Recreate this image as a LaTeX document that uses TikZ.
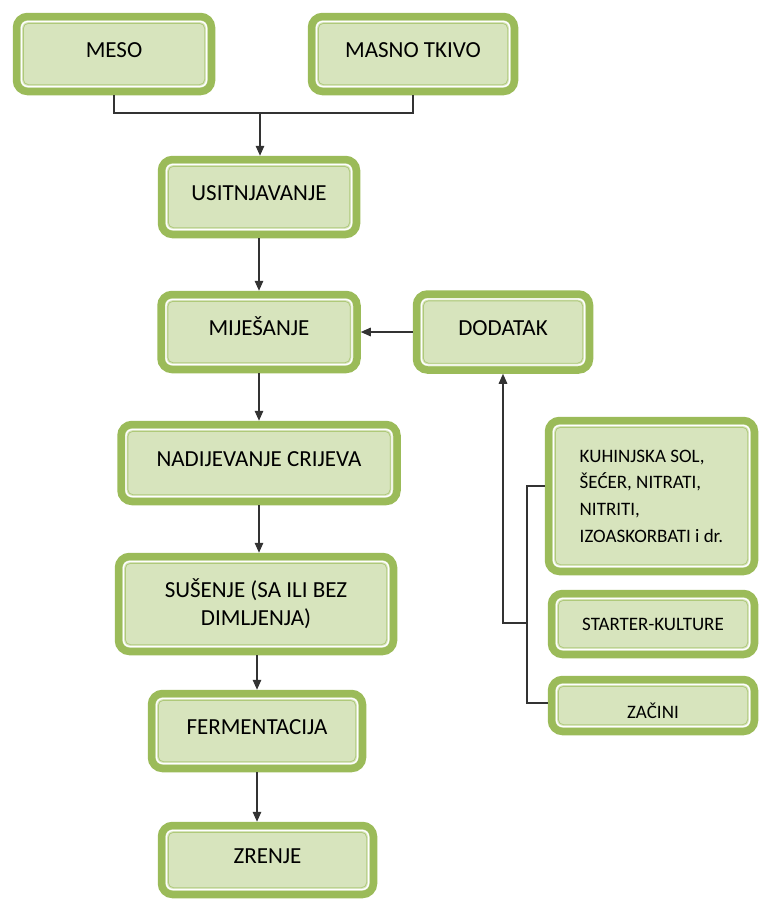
\documentclass[tikz,border=0pt]{standalone}
\usepackage{fontspec}
\setmainfont{Carlito}
\usetikzlibrary{arrows.meta,calc}
\definecolor{gborder}{HTML}{9BBB59}
\definecolor{gfill}{HTML}{D7E4BD}
\tikzset{
  box/.style={draw=gborder, line width=7.5pt, fill=gfill, rounded corners=11pt,
    inner sep=0pt, font=\fontsize{23}{28}\selectfont, text=black},
  up/.style={text height=15pt, text depth=8pt},
  smallbox/.style={font=\fontsize{19}{26.7}\selectfont},
  conn/.style={line width=1.5pt, draw=black!80},
  arr/.style={conn, -{Triangle[length=10pt,width=8.5pt]}},
}
\begin{document}
\begin{tikzpicture}[x=1pt,y=-1pt]
\useasboundingbox (0,0) rectangle (759,900);
% main column
\node[box,up,minimum width=195,minimum height=75] (meso) at (114,54) {MESO};
\node[box,up,minimum width=203,minimum height=75] (masno) at (413,54) {MASNO TKIVO};
\node[box,up,minimum width=195,minimum height=75] (usit) at (259,197) {USITNJAVANJE};
\node[box,up,minimum width=196,minimum height=75] (mij) at (259,332) {MIJEŠANJE};
\node[box,up,minimum width=173,minimum height=76] (dod) at (503,332) {DODATAK};
\node[box,up,minimum width=276,minimum height=77] (nad) at (259,463) {NADIJEVANJE CRIJEVA};
\node[box,align=center,minimum width=275,minimum height=95] (sus) at (256,604) {SUŠENJE (SA ILI BEZ\\DIMLJENJA)};
\node[box,up,minimum width=211,minimum height=75] (ferm) at (257,731) {FERMENTACIJA};
\node[box,up,minimum width=212,minimum height=69] (zren) at (267.5,860) {ZRENJE};
% additives
\node[box,smallbox,align=left,minimum width=206,minimum height=151] (kuh) at (651.5,496)
  {KUHINJSKA SOL,\\ŠEĆER, NITRATI,\\NITRITI,\\IZOASKORBATI i dr.};
\node[box,smallbox,minimum width=203,minimum height=61] (star) at (653,624) {STARTER-KULTURE};
\node[box,smallbox,text height=25pt,text depth=0pt,minimum width=203,minimum height=52] (zac) at (653,705.5) {ZAČINI};
% inner double lines
\foreach \n in {meso,masno,usit,mij,dod,nad,sus,ferm,zren,kuh,star,zac}{
  \draw[white, line width=1.3pt, rounded corners=6pt]
    ($(\n.north west)+(8.8,8.8)$) rectangle ($(\n.south east)+(-8.8,-8.8)$);
  \draw[gborder!80, line width=0.8pt, rounded corners=5pt]
    ($(\n.north west)+(10.6,10.6)$) rectangle ($(\n.south east)+(-10.6,-10.6)$);
}
% connectors
\coordinate (j) at (260,113);
\draw[conn] (meso.south) |- (j);
\draw[conn] (masno.south) |- (j);
\draw[arr] (j) -- (j |- usit.north);
\draw[arr] (usit.south) -- (usit.south |- mij.north);
\draw[arr] (dod.west) -- (mij.east);
\draw[arr] (mij.south) -- (mij.south |- nad.north);
\draw[arr] (nad.south) -- (nad.south |- sus.north);
\draw[arr] (ferm.north |- sus.south) -- (ferm.north);
\draw[arr] (ferm.south) -- (ferm.south |- zren.north);
\coordinate (b1) at (527,486);
\coordinate (b2) at (527,703);
\coordinate (b3) at (527,623);
\draw[conn] (kuh.west |- b1) -- (b1) -- (b2) -- (b2 -| zac.west);
\draw[arr] (b3) -| (dod.south);
\end{tikzpicture}
\end{document}
